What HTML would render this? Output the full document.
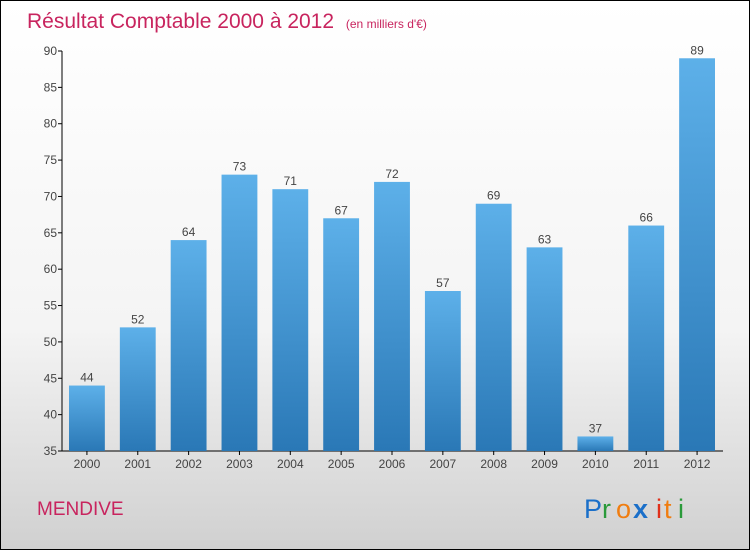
<!DOCTYPE html>
<html><head><meta charset="utf-8"><style>
body{margin:0}
#c{position:relative;width:748px;height:548px;border:1px solid #000;background:linear-gradient(#fff 0%,#f4f4f4 60%,#d0d0d0 100%);font-family:"Liberation Sans",sans-serif;overflow:hidden}
</style></head><body>
<div id="c">
<svg id="s" width="748" height="548" style="position:absolute;left:0;top:0">
<defs><linearGradient id="g" x1="0" y1="0" x2="0" y2="1"><stop offset="0" stop-color="#5db0e9"/><stop offset="1" stop-color="#2a78b6"/></linearGradient></defs>
<text x="26" y="27" font-size="21" fill="#c8245e">Résultat Comptable 2000 à 2012 <tspan font-size="12" dx="6">(en milliers d'€)</tspan></text>
<text x="36" y="514" font-size="19" fill="#c8245e">MENDIVE</text>
<g font-size="27">
<text x="583" y="517" fill="#1a6fc9">P</text><text x="601" y="517" fill="#2a9a3a">r</text><text x="615" y="517" fill="#f07d10">o</text><text x="632" y="517" fill="#1a6fc9" font-weight="bold">x</text><text x="655" y="517" fill="#e0301a">i</text><text x="663" y="517" fill="#f07d10">t</text><text x="677" y="517" fill="#2a9a3a">i</text>
</g>
<g id="plot"></g>
</svg>
</div>
<script>
const categories=["2000","2001","2002","2003","2004","2005","2006","2007","2008","2009","2010","2011","2012"];
const values=[44,52,64,73,71,67,72,57,69,63,37,66,89];
const yTicks=[35,40,45,50,55,60,65,70,75,80,85,90];
const ns="http://www.w3.org/2000/svg";
const x0=61,x1=722,yTop=50,yBot=450,yMin=35,yMax=90;
const y=v=>yBot-(v-yMin)/(yMax-yMin)*(yBot-yTop);
const step=(x1-x0)/categories.length;
const p=document.getElementById('plot');
function mk(t,a){const e=document.createElementNS(ns,t);for(const k in a)e.setAttribute(k,a[k]);p.appendChild(e);return e;}
let e=mk('line',{x1:x0,y1:yTop,x2:x0,y2:yBot,stroke:'#000'});


e=mk('line',{x1:x0,y1:yBot,x2:x1,y2:yBot,stroke:'#000'});


yTicks.forEach(t=>{
 e=mk('line',{x1:x0-4,y1:y(t),x2:x0,y2:y(t),stroke:'#000'});
 
 
 e=mk('text',{x:x0-5,y:y(t)+4,'font-size':12,fill:'#444','text-anchor':'end'});
 e.textContent=t;
 
 
});
categories.forEach((c,i)=>{
 const bx=x0+i*step+7,bw=step-15,v=values[i];
 e=mk('rect',{x:bx,y:y(v),width:bw,height:yBot-y(v),fill:'url(#g)'});
 
 
 e=mk('text',{x:bx+bw/2,y:y(v)-4,'font-size':12,fill:'#444','text-anchor':'middle'});
 e.textContent=v;
 
 
 e=mk('line',{x1:bx+bw/2,y1:yBot,x2:bx+bw/2,y2:yBot+4,stroke:'#000'});
 
 
 e=mk('text',{x:bx+bw/2,y:yBot+17,'font-size':12,fill:'#444','text-anchor':'middle'});
 e.textContent=c;
 
 
});
</script>
</body></html>
